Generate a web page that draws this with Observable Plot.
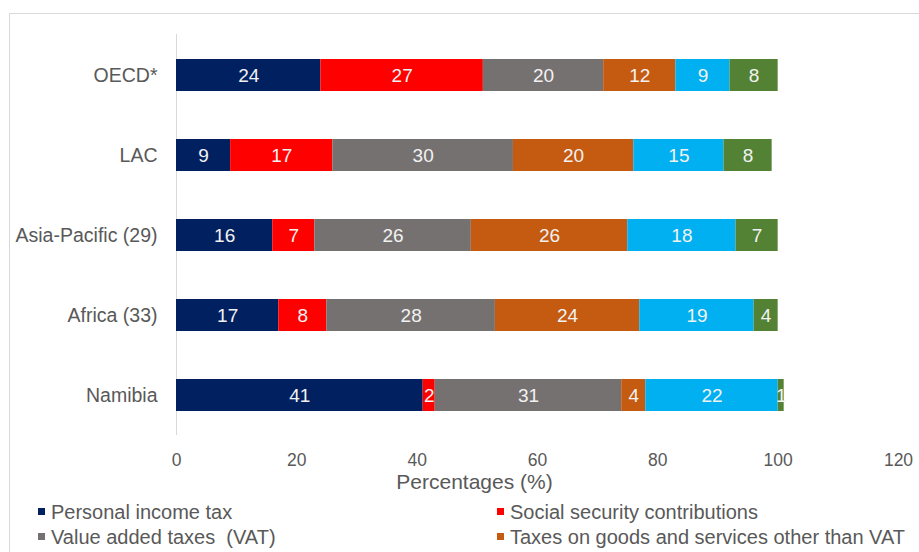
<!DOCTYPE html>
<html>
<head>
<meta charset="utf-8">
<script src="https://cdn.jsdelivr.net/npm/d3@7"></script>
<script src="https://cdn.jsdelivr.net/npm/@observablehq/plot@0.6"></script>
<style>
  html, body { margin: 0; padding: 0; background: #fff; }
  body { width: 919px; height: 552px; position: relative; overflow: hidden; font-family: "Liberation Sans", Arial, sans-serif; }
  #frame { position: absolute; left: 9px; top: 13px; width: 1000px; height: 600px; border: 1px solid #d9d9d9; box-sizing: border-box; }
  #chart { position: absolute; left: 0; top: 0; }
  .leg { position: absolute; font-size: 20px; line-height: 24px; color: #595959; white-space: pre; }
  .leg span.sw { display: inline-block; width: 7px; height: 7px; margin-right: 6px; vertical-align: middle; position: relative; top: -2px; }
</style>
</head>
<body>
<div id="frame"></div>
<div id="chart"></div>
<div id="legend"></div>
<script>
const categories = ["OECD*", "LAC", "Asia-Pacific (29)", "Africa (33)", "Namibia"];
const seriesNames = [
  "Personal income tax",
  "Social security contributions",
  "Value added taxes  (VAT)",
  "Taxes on goods and services other than VAT",
  "Corporate income tax",
  "Other taxes"
];
const seriesColors = ["#002060", "#ff0000", "#767171", "#c55a11", "#00b0f0", "#548235"];
const personalIncomeTax = [24, 9, 16, 17, 41];
const socialSecurity = [27, 17, 7, 8, 2];
const vat = [20, 30, 26, 28, 31];
const otherGoodsServices = [12, 20, 26, 24, 4];
const corporateIncomeTax = [9, 15, 18, 19, 22];
const otherTaxes = [8, 8, 7, 4, 1];
const xTicks = [0, 20, 40, 60, 80, 100, 120];
const xLabel = "Percentages (%)";
const legendShown = seriesNames.slice(0, 4);

const seriesValues = [personalIncomeTax, socialSecurity, vat, otherGoodsServices, corporateIncomeTax, otherTaxes];
const data = [];
categories.forEach((c, i) => {
  seriesValues.forEach((vals, s) => {
    data.push({category: c, series: seriesNames[s], value: vals[i]});
  });
});

const chart = Plot.plot({
  width: 919,
  height: 499,
  marginLeft: 176,
  marginRight: 21,
  marginTop: 34,
  marginBottom: 64,
  style: {fontFamily: "'Liberation Sans', Arial, sans-serif", fontSize: "17px", color: "#595959", background: "transparent"},
  x: {domain: [0, 120], ticks: xTicks, label: null},
  y: {domain: categories, paddingInner: 0.6, paddingOuter: 0.3, label: null},
  color: {domain: seriesNames, range: seriesColors},
  marks: [
    Plot.ruleX([0], {stroke: "#d9d9d9", strokeWidth: 1}),
    Plot.barX(data, Plot.stackX({x: "value", y: "category", fill: "series", z: "series", order: null})),
    Plot.text(data, Plot.stackX({x: "value", y: "category", z: "series", order: null, text: d => String(d.value), fill: "#f2f2f2", fontSize: 19})),
    Plot.axisY({tickSize: 0, tickPadding: 19, label: null, fontSize: 19.5}),
    Plot.axisX({ticks: xTicks, tickSize: 0, tickPadding: 18, label: null, fontSize: 17.5, tickFormat: d => String(d)}),
    Plot.text([xLabel], {frameAnchor: "bottom", dx: -63, dy: 53, fontSize: 21, fill: "#595959"})
  ]
});
document.getElementById("chart").appendChild(chart);

const legend = document.getElementById("legend");
const pos = [[38, 500], [497, 500], [38, 525], [497, 525]];
legendShown.forEach((name, i) => {
  const d = document.createElement("div");
  d.className = "leg";
  d.style.left = pos[i][0] + "px";
  d.style.top = pos[i][1] + "px";
  d.innerHTML = `<span class="sw" style="background:${seriesColors[i]}"></span>`;
  d.appendChild(document.createTextNode(name));
  legend.appendChild(d);
});
</script>
</body>
</html>
